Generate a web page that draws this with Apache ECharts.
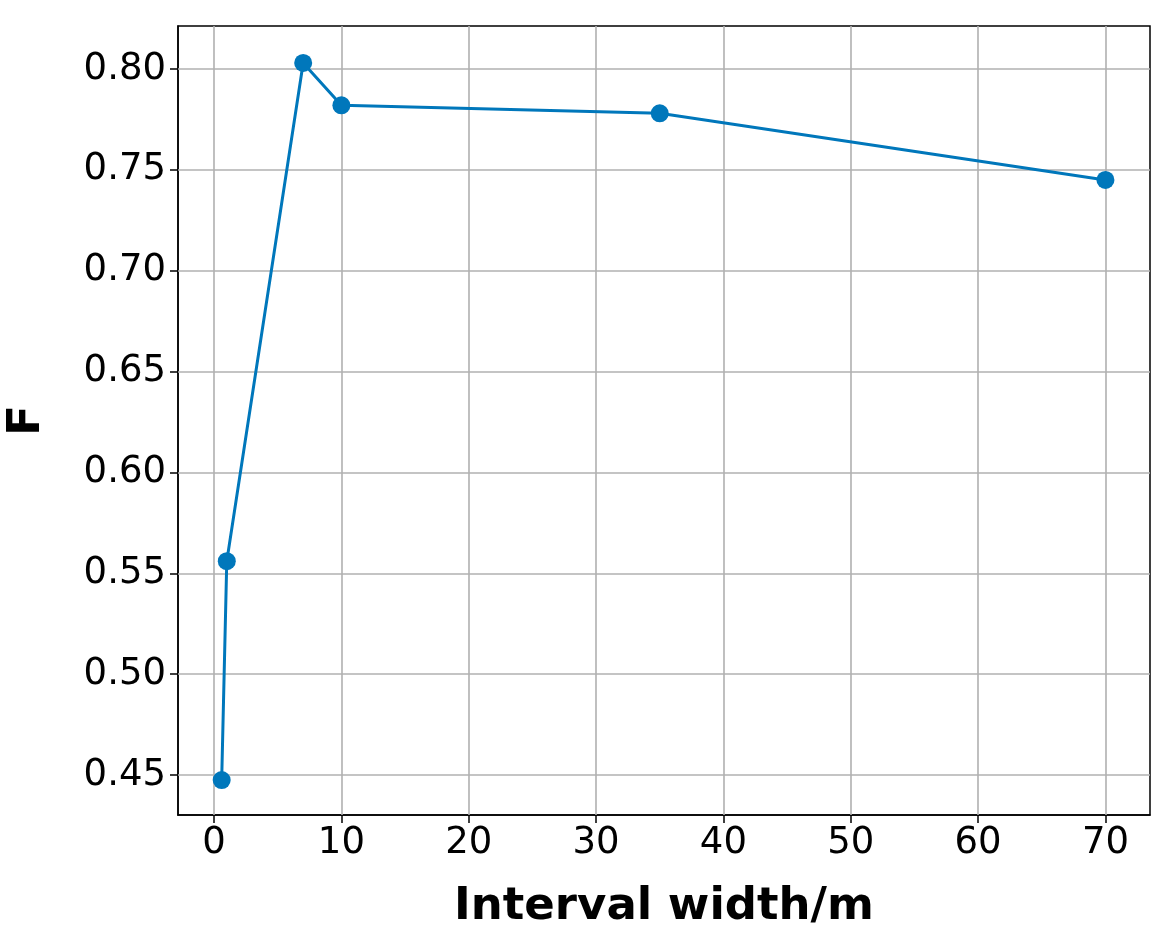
<!DOCTYPE html>
<html><head><meta charset="utf-8">
<script src="https://cdn.jsdelivr.net/npm/echarts@6/dist/echarts.min.js"></script>
<style>html,body{margin:0;padding:0;background:#fff}#c{width:1174px;height:946px}</style>
</head><body><div id="c"></div>
<script>
const xValues = [0.6, 1, 7, 10, 35, 70];
const fValues = [0.4475, 0.556, 0.803, 0.782, 0.778, 0.745];
const xTicks = [0, 10, 20, 30, 40, 50, 60, 70];
const yTicks = [0.45, 0.50, 0.55, 0.60, 0.65, 0.70, 0.75, 0.80];

const gridStyle = {color: '#b0b0b0', width: 1.6, type: 'solid'};
const markData = xTicks.map(v => ({xAxis: v})).concat(yTicks.map(v => ({yAxis: v})));

const chart = echarts.init(document.getElementById('c'));
chart.setOption({
  animation: false,
  grid: {left: 178, right: 24, top: 26, bottom: 131, outerBoundsMode: 'none', containLabel: false, show: true, borderColor: '#000', borderWidth: 1.5, backgroundColor: 'transparent'},
  xAxis: {
    type: 'value', min: -2.83, max: 73.5,
    name: 'Interval width/m', nameLocation: 'middle', nameGap: 70,
    nameTextStyle: {fontFamily: 'DejaVu Sans', fontWeight: 'bold', fontSize: 45, color: '#000'},
    axisLine: {show: true, onZero: false, lineStyle: {color: '#000', width: 1.5}},
    axisTick: {show: true, length: 8, customValues: xTicks, lineStyle: {color: '#000', width: 1.5}},
    axisLabel: {customValues: xTicks, fontFamily: 'DejaVu Sans', fontSize: 37, color: '#000', margin: 10},
    splitLine: {show: false}
  },
  yAxis: {
    type: 'value', min: 0.4302, max: 0.8213,
    name: 'F', nameLocation: 'middle', nameGap: 128,
    nameTextStyle: {fontFamily: 'DejaVu Sans', fontWeight: 'bold', fontSize: 45, color: '#000'},
    axisLine: {show: true, onZero: false, lineStyle: {color: '#000', width: 1.5}},
    axisTick: {show: true, length: 8, customValues: yTicks, lineStyle: {color: '#000', width: 1.5}},
    axisLabel: {customValues: yTicks, formatter: v => v.toFixed(2), fontFamily: 'DejaVu Sans', fontSize: 37, color: '#000', margin: 12},
    splitLine: {show: false}
  },
  series: [{
    type: 'line',
    data: xValues.map((x, i) => [x, fValues[i]]),
    symbol: 'circle', symbolSize: 18,
    lineStyle: {color: '#0077bb', width: 3},
    itemStyle: {color: '#0077bb'},
    z: 5,
    markLine: {silent: true, symbol: 'none', label: {show: false}, lineStyle: gridStyle, data: markData, z: 1}
  }]
});
</script></body></html>
